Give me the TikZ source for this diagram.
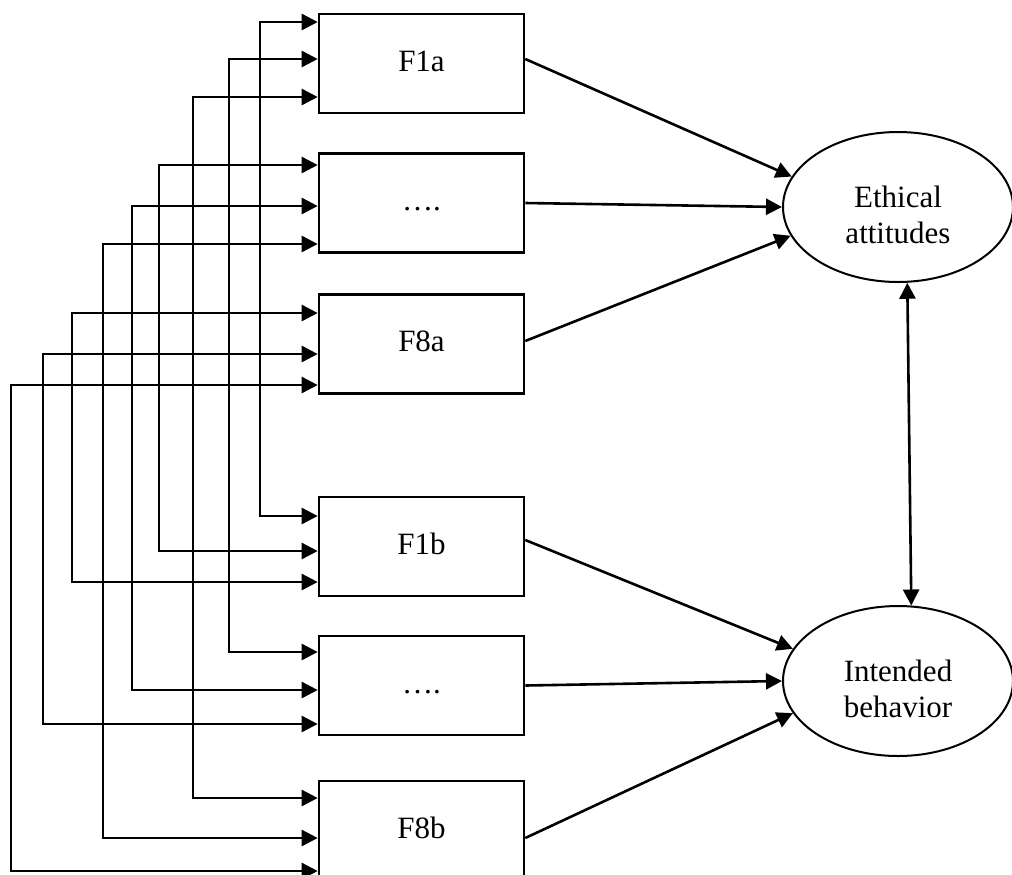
\documentclass[tikz,border=0pt]{standalone}
\usepackage{fontspec}
\setmainfont{Liberation Serif}
\usetikzlibrary{arrows.meta,shapes.geometric,calc}
\begin{document}
\begin{tikzpicture}[x=0.5pt,y=-0.5pt,
  fbox/.style={draw,line width=1.3pt,minimum width=102.5pt,minimum height=49.5pt,inner sep=0pt,
    text height=10.5pt,text depth=3pt,font=\fontsize{15.5}{18}\selectfont},
  lat/.style={draw,ellipse,line width=1pt,minimum width=115pt,minimum height=75pt,inner sep=0pt},
  lattext/.style={align=center,inner sep=0pt,font=\fontsize{15.5}{18}\selectfont},
  arr/.style={line width=1.3pt,-{Triangle[length=8pt,width=8pt]}},
  dbl/.style={line width=1.3pt,{Triangle[length=8pt,width=8pt]}-{Triangle[length=8pt,width=8pt]}}]
\useasboundingbox (0,0) rectangle (1012,874);
\clip (0,0) rectangle (1012,874);
% boxes
\node[fbox] (b1) at (421.5,63.5) {F1a};
\node[fbox] (b2) at (421.5,203) {….};
\node[fbox] (b3) at (421.5,344) {F8a};
\node[fbox] (b4) at (421.5,546.5) {F1b};
\node[fbox] (b5) at (421.5,685.5) {….};
\node[fbox] (b6) at (421.5,830.5) {F8b};
% latent variables
\node[lat] (EA) at (898,207) {};
\node[lattext] (EAt) at (898,215) {Ethical\\attitudes};
\node[lat] (IB) at (898,681) {};
\node[lattext] (IBt) at (898,689) {Intended\\behavior};
% left connectors
\draw[dbl] (b1.west |- 0,22)  -| (260,516) -- (b4.west |- 0,516);
\draw[dbl] (b1.west |- 0,59)  -| (229,652) -- (b5.west |- 0,652);
\draw[dbl] (b1.west |- 0,97)  -| (193,798) -- (b6.west |- 0,798);
\draw[dbl] (b2.west |- 0,165) -| (159,551) -- (b4.west |- 0,551);
\draw[dbl] (b2.west |- 0,206) -| (132,690) -- (b5.west |- 0,690);
\draw[dbl] (b2.west |- 0,244) -| (103,838) -- (b6.west |- 0,838);
\draw[dbl] (b3.west |- 0,313) -| (72,582)  -- (b4.west |- 0,582);
\draw[dbl] (b3.west |- 0,354) -| (43,724)  -- (b5.west |- 0,724);
\draw[dbl] (b3.west |- 0,385) -| (11,871)  -- (b6.west |- 0,871);
% paths to latents
\draw[arr] (b1.east |- 0,59)  -- (EA.164);
\draw[arr] (b2.east)          -- (EA.west);
\draw[arr] (b3.east |- 0,341) -- (EA.195);
\draw[arr] (b4.east |- 0,540) -- (IB.163);
\draw[arr] (b5.east)          -- (IB.west);
\draw[arr] (b6.east |- 0,838) -- (IB.197);
% correlation
\draw[dbl] (EA.-83) -- (IB.80);
\end{tikzpicture}
\end{document}
